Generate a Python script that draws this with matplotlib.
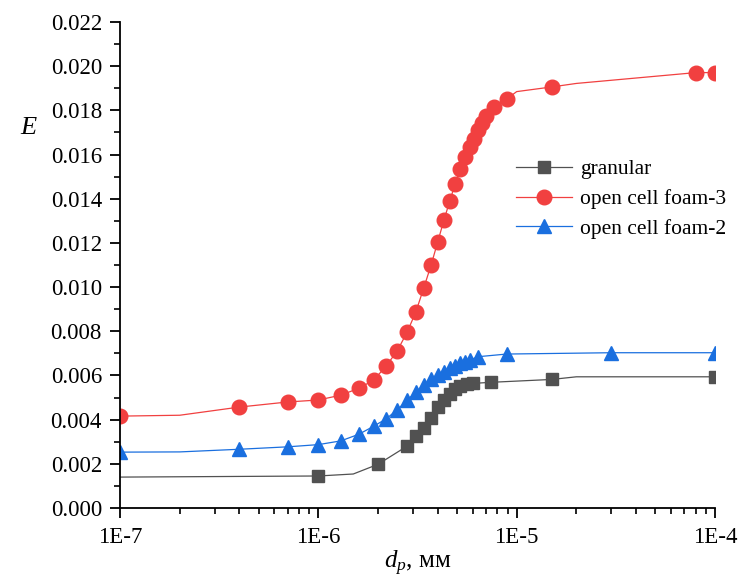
import numpy as np
import matplotlib
matplotlib.use("Agg")
import matplotlib.pyplot as plt
from matplotlib.ticker import LogLocator, FuncFormatter, MultipleLocator, NullFormatter

plt.rcParams['font.family'] = ['Liberation Serif', 'DejaVu Serif']
plt.rcParams['mathtext.fontset'] = 'custom'
plt.rcParams['mathtext.rm'] = 'Liberation Serif'
plt.rcParams['mathtext.it'] = 'Liberation Serif:italic'

# granular (line points; markers on a subset)
gran_x = [1e-7, 1e-6, 1.5e-6, 2e-6, 2.8e-6, 3.1e-6, 3.4e-6, 3.7e-6, 4.0e-6, 4.3e-6,
          4.6e-6, 4.9e-6, 5.2e-6, 5.6e-6, 6.0e-6, 7.4e-6, 1.5e-5, 2e-5, 1e-4]
gran_y = [0.0014, 0.00145, 0.00154, 0.00198, 0.0028, 0.00324, 0.0036, 0.00408, 0.00456, 0.00489,
          0.00516, 0.00537, 0.00552, 0.00561, 0.00564, 0.00569, 0.00582, 0.00594, 0.00594]
gran_mark = [1, 3, 4, 5, 6, 7, 8, 9, 10, 11, 12, 13, 14, 15, 16, 18]

# open cell foam-3
foam3_x = [1e-7, 2e-7, 4e-7, 7e-7, 1e-6, 1.3e-6, 1.6e-6, 1.9e-6, 2.2e-6, 2.5e-6, 2.8e-6,
           3.1e-6, 3.4e-6, 3.7e-6, 4.0e-6, 4.3e-6, 4.6e-6, 4.9e-6, 5.2e-6, 5.5e-6, 5.8e-6,
           6.1e-6, 6.4e-6, 6.7e-6, 7.0e-6, 7.7e-6, 8.9e-6, 1e-5, 1.5e-5, 2e-5, 8e-5, 1e-4]
foam3_y = [0.00416, 0.0042, 0.00457, 0.0048, 0.00489, 0.00511, 0.00542, 0.00579, 0.00643, 0.00712, 0.00795,
           0.00887, 0.00996, 0.01099, 0.01205, 0.01304, 0.0139, 0.01468, 0.01535, 0.0159, 0.01633,
           0.0167, 0.01711, 0.01744, 0.01776, 0.01817, 0.01851, 0.01885, 0.01906, 0.01922, 0.01971, 0.01971]
foam3_mark = [0] + list(range(2, 27)) + [28, 30, 31]

# open cell foam-2
foam2_x = [1e-7, 2e-7, 4e-7, 7e-7, 1e-6, 1.3e-6, 1.6e-6, 1.9e-6, 2.2e-6, 2.5e-6, 2.8e-6,
           3.1e-6, 3.4e-6, 3.7e-6, 4.0e-6, 4.3e-6, 4.6e-6, 4.9e-6, 5.2e-6, 5.5e-6, 5.8e-6,
           6.4e-6, 8.9e-6, 3e-5, 1e-4]
foam2_y = [0.00253, 0.00254, 0.00266, 0.00277, 0.00287, 0.00304, 0.00334, 0.0037, 0.00404, 0.00445, 0.00487,
           0.00525, 0.00557, 0.00582, 0.00602, 0.00617, 0.00632, 0.00644, 0.00655, 0.00662, 0.0067,
           0.00685, 0.00697, 0.00703, 0.00703]
foam2_mark = [0] + list(range(2, 25))

fig = plt.figure(figsize=(7.52, 5.84), dpi=100)
ax = fig.add_axes([0.1596, 0.1301, 0.7912, 0.8322])

ax.plot(gran_x, gran_y, color='#515151', lw=0.9, marker='s', ms=8.5,
        markevery=gran_mark, label='granular')
ax.plot(foam3_x, foam3_y, color='#F14040', lw=0.9, marker='o', ms=10.5,
        markevery=foam3_mark, label='open cell foam-3')
ax.plot(foam2_x, foam2_y, color='#1A6FDF', lw=0.9, marker='^', ms=10,
        markevery=foam2_mark, label='open cell foam-2')

ax.set_xscale('log')
ax.set_xlim(1e-7, 1e-4)
ax.set_ylim(0, 0.022)
ax.xaxis.set_major_locator(LogLocator(base=10, numticks=10))
ax.xaxis.set_minor_locator(LogLocator(base=10, subs=np.arange(2, 10), numticks=20))
ax.xaxis.set_major_formatter(FuncFormatter(lambda v, p: '1E%d' % round(np.log10(v))))
ax.xaxis.set_minor_formatter(NullFormatter())
ax.yaxis.set_major_locator(MultipleLocator(0.002))
ax.yaxis.set_minor_locator(MultipleLocator(0.001))
ax.yaxis.set_major_formatter(FuncFormatter(lambda v, p: '%.3f' % v))

for s in ['top', 'right']:
    ax.spines[s].set_visible(False)
for s in ['left', 'bottom']:
    ax.spines[s].set_linewidth(1.3)
ax.tick_params(which='major', direction='out', length=7, width=1.3, labelsize=16.5)
ax.tick_params(axis='y', which='major', pad=6)
ax.tick_params(axis='x', which='major', pad=7)
ax.tick_params(which='minor', direction='out', length=4, width=1.2)

ax.set_xlabel('$d_p$, мм', fontsize=18, labelpad=0)
fig.text(0.027, 0.78, '$E$', fontsize=19, ha='left', va='center')

ax.legend(loc='upper left', bbox_to_anchor=(0.651, 0.735), frameon=False, fontsize=15.5,
          handlelength=2.6, handletextpad=0.37, labelspacing=0.45, borderaxespad=0)

fig.savefig('out.png', dpi=100)
